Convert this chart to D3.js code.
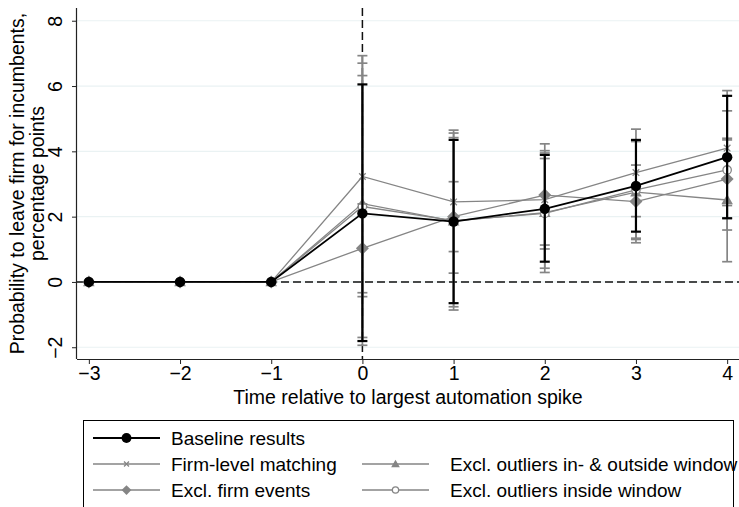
<!DOCTYPE html>
<html>
<head>
<meta charset="utf-8">
<script src="https://cdn.jsdelivr.net/npm/d3@7"></script>
<style>
  html, body { margin: 0; padding: 0; background: #fff; }
  svg { display: block; font-family: Arial, "Liberation Sans", Helvetica, sans-serif; }
</style>
</head>
<body>
<svg id="chart" width="739" height="507"></svg>
<script>
// Event-study periods relative to the largest automation spike
const periods = [-3, -2, -1, 0, 1, 2, 3, 4];
const xTicks = [-3, -2, -1, 0, 1, 2, 3, 4];
const yTicks = [-2, 0, 2, 4, 6, 8];

// Point estimates and 95% confidence bounds (percentage points)
const baseline   = [0, 0, 0, 2.10, 1.85, 2.24, 2.94, 3.82];
const baselineLo = [null, null, null, -1.81, -0.65, 0.62, 1.54, 1.95];
const baselineHi = [null, null, null, 6.05, 4.35, 3.89, 4.35, 5.70];

const firmLevel   = [0, 0, 0, 3.23, 2.45, 2.52, 3.35, 4.10];
const firmLevelLo = [null, null, null, -0.45, 0.27, 1.01, 2.00, 2.34];
const firmLevelHi = [null, null, null, 6.93, 4.65, 4.02, 4.68, 5.86];

const exclOutAll   = [0, 0, 0, 2.40, 1.86, 2.12, 2.75, 2.51];
const exclOutAllLo = [null, null, null, -1.94, -0.76, 0.29, 1.20, 0.62];
const exclOutAllHi = [null, null, null, 6.70, 4.42, 3.95, 4.30, 4.40];

const exclOutIn   = [0, 0, 0, 2.31, 1.88, 2.10, 2.82, 3.43];
const exclOutInLo = [null, null, null, -1.70, -0.86, 0.42, 1.30, 1.59];
const exclOutInHi = [null, null, null, 6.32, 4.56, 3.78, 4.34, 5.24];

const exclFirm   = [0, 0, 0, 1.03, 2.00, 2.66, 2.46, 3.15];
const exclFirmLo = [null, null, null, -0.33, 0.93, 1.13, 1.34, 1.95];
const exclFirmHi = [null, null, null, 2.39, 3.07, 4.23, 3.58, 4.35];

const seriesNames = [
  "Baseline results",
  "Firm-level matching",
  "Excl. outliers in- & outside window",
  "Excl. firm events",
  "Excl. outliers inside window"
];

const GRAY = "#858585";
const BLACK = "#000";
const FONT = 19.5;
const LEGEND_FONT = 19;

const series = [
  { name: seriesNames[1], est: firmLevel, lo: firmLevelLo, hi: firmLevelHi, color: GRAY, symbol: "x", width: 1.3 },
  { name: seriesNames[2], est: exclOutAll, lo: exclOutAllLo, hi: exclOutAllHi, color: GRAY, symbol: "triangle", width: 1.3 },
  { name: seriesNames[4], est: exclOutIn, lo: exclOutInLo, hi: exclOutInHi, color: GRAY, symbol: "ocircle", width: 1.3 },
  { name: seriesNames[3], est: exclFirm, lo: exclFirmLo, hi: exclFirmHi, color: GRAY, symbol: "diamond", width: 1.3 },
  { name: seriesNames[0], est: baseline, lo: baselineLo, hi: baselineHi, color: BLACK, symbol: "circle", width: 1.8 }
];

const svg = d3.select("#chart");

const plot = { left: 77, right: 739, top: 8, bottom: 359 };
const x = d3.scaleLinear().domain([-3.13, 4.13]).range([plot.left, plot.right]);
const y = d3.scaleLinear().domain([-2.36, 8.39]).range([plot.bottom, plot.top]);

// Gridlines
svg.append("g").selectAll("line").data(yTicks).join("line")
  .attr("x1", plot.left).attr("x2", plot.right)
  .attr("y1", d => y(d)).attr("y2", d => y(d))
  .attr("stroke", "#eaf2f3").attr("stroke-width", 1.2);

// Reference lines
svg.append("line")
  .attr("x1", plot.left).attr("x2", plot.right)
  .attr("y1", y(0)).attr("y2", y(0))
  .attr("stroke", "#111").attr("stroke-width", 1.5)
  .attr("stroke-dasharray", "8,4");
svg.append("line")
  .attr("x1", x(0)).attr("x2", x(0))
  .attr("y1", plot.top).attr("y2", plot.bottom)
  .attr("stroke", "#111").attr("stroke-width", 1.5)
  .attr("stroke-dasharray", "8,4");

// Axes
const xAxis = d3.axisBottom(x).tickValues(xTicks).tickSize(5).tickPadding(2).tickFormat(d3.format("d"));
const gx = svg.append("g").attr("transform", `translate(0,${plot.bottom})`).call(xAxis);
gx.select(".domain").attr("d", `M${plot.left},0.5H${plot.right}`).attr("stroke", "#222").attr("stroke-width", 1.2);
gx.selectAll(".tick line").attr("stroke", "#222");
gx.selectAll(".tick text").attr("font-size", FONT).attr("fill", "#000")
  .attr("font-family", "Arial, 'Liberation Sans', sans-serif");

const yAxis = d3.axisLeft(y).tickValues(yTicks).tickSize(5).tickFormat(d3.format("d"));
const gy = svg.append("g").attr("transform", `translate(${plot.left},0)`).call(yAxis);
gy.select(".domain").attr("d", `M-0.5,${plot.top}V${plot.bottom}`).attr("stroke", "#222").attr("stroke-width", 1.2);
gy.selectAll(".tick line").attr("stroke", "#222");
gy.selectAll(".tick text")
  .attr("x", null).attr("dy", null)
  .attr("transform", "translate(-22,0) rotate(-90)")
  .attr("text-anchor", "middle")
  .attr("dy", "0.35em")
  .attr("font-size", FONT).attr("fill", "#000")
  .attr("font-family", "Arial, 'Liberation Sans', sans-serif");

// Axis titles
svg.append("text")
  .attr("x", (x(-3) + x(4)) / 2).attr("y", 404)
  .attr("text-anchor", "middle").attr("font-size", FONT)
  .text("Time relative to largest automation spike");

const yTitle = svg.append("text")
  .attr("transform", `translate(0,${(plot.top + plot.bottom) / 2}) rotate(-90)`)
  .attr("text-anchor", "middle").attr("font-size", FONT);
yTitle.append("tspan").attr("x", 0).attr("y", 24).text("Probability to leave firm for incumbents,");
yTitle.append("tspan").attr("x", 0).attr("y", 44).text("percentage points");

// Marker drawing
function drawMarker(g, type, cx, cy, color, scale) {
  const s = scale || 1;
  if (type === "circle") {
    g.append("circle").attr("cx", cx).attr("cy", cy).attr("r", 5.2 * s).attr("fill", color);
  } else if (type === "ocircle") {
    g.append("circle").attr("cx", cx).attr("cy", cy).attr("r", 4.2 * s)
      .attr("fill", "#fff").attr("stroke", color).attr("stroke-width", 1.3);
  } else if (type === "diamond") {
    const r = 6.5 * s;
    g.append("path").attr("d", `M${cx},${cy - r}L${cx + r},${cy}L${cx},${cy + r}L${cx - r},${cy}Z`).attr("fill", color);
  } else if (type === "triangle") {
    const r = 5.8 * s;
    g.append("path").attr("d", `M${cx},${cy - r}L${cx + r},${cy + r * 0.75}L${cx - r},${cy + r * 0.75}Z`).attr("fill", color);
  } else if (type === "x") {
    const r = 3.3 * s;
    g.append("path").attr("d", `M${cx - r},${cy - r}L${cx + r},${cy + r}M${cx - r},${cy + r}L${cx + r},${cy - r}`)
      .attr("stroke", color).attr("stroke-width", 1.3).attr("fill", "none");
  }
}

const capHalf = 5;
const line = d3.line().x(d => x(d.p)).y(d => y(d.v));

series.forEach(s => {
  const g = svg.append("g");
  const pts = periods.map((p, i) => ({ p, v: s.est[i], lo: s.lo[i], hi: s.hi[i] }));
  const ci = pts.filter(d => d.lo !== null);
  // confidence intervals with caps (clipped to plot)
  const clip = v => Math.max(y.domain()[0], Math.min(y.domain()[1], v));
  g.selectAll(".ci").data(ci).join("line")
    .attr("x1", d => x(d.p)).attr("x2", d => x(d.p))
    .attr("y1", d => y(clip(d.lo))).attr("y2", d => y(clip(d.hi)))
    .attr("stroke", s.color).attr("stroke-width", s.width + 0.4);
  ["lo", "hi"].forEach(k => {
    g.selectAll(".cap" + k).data(ci.filter(d => d[k] >= y.domain()[0] && d[k] <= y.domain()[1])).join("line")
      .attr("x1", d => x(d.p) - capHalf).attr("x2", d => x(d.p) + capHalf)
      .attr("y1", d => y(d[k])).attr("y2", d => y(d[k]))
      .attr("stroke", s.color).attr("stroke-width", s.width + 0.4);
  });
  g.append("path").datum(pts).attr("d", line)
    .attr("fill", "none").attr("stroke", s.color).attr("stroke-width", s.width);
  pts.forEach(d => drawMarker(g, s.symbol, x(d.p), y(d.v), s.color, 1));
});

// Legend
const leg = svg.append("g");
leg.append("rect").attr("x", 83.5).attr("y", 420.5).attr("width", 650).attr("height", 110)
  .attr("fill", "#fff").attr("stroke", "#000").attr("stroke-width", 1);

const legendItems = [
  { s: series[4], col: 0, row: 0 },
  { s: series[0], col: 0, row: 1 },
  { s: series[1], col: 1, row: 1 },
  { s: series[3], col: 0, row: 2 },
  { s: series[2], col: 1, row: 2 }
];
const colX = [93, 362];
const textX = [171, 450];
const rowY = [438, 464, 490];
legendItems.forEach(it => {
  const x0 = colX[it.col], yy = rowY[it.row];
  leg.append("line").attr("x1", x0).attr("x2", x0 + 67).attr("y1", yy).attr("y2", yy)
    .attr("stroke", it.s.color).attr("stroke-width", it.s.width);
  drawMarker(leg, it.s.symbol, x0 + 33.5, yy, it.s.color, it.s.symbol === "circle" ? 0.95 : 0.75);
  leg.append("text").attr("x", textX[it.col]).attr("y", yy).attr("dy", "0.36em")
    .attr("font-size", LEGEND_FONT).text(it.s.name);
});
</script>
</body>
</html>
